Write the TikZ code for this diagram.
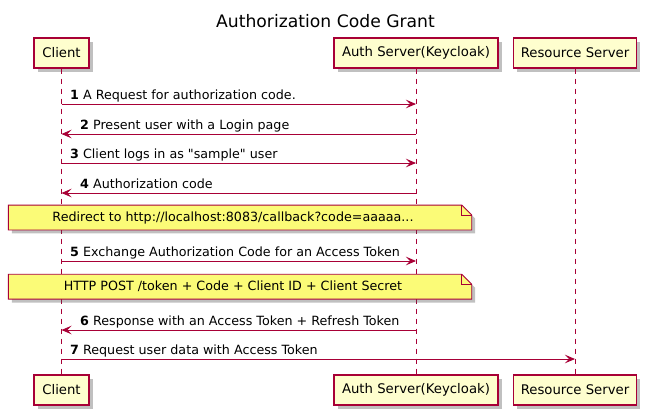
\documentclass[tikz,border=0pt]{standalone}
\usepackage{fontspec}
\setmainfont{DejaVu Sans}[Ligatures=TeXOff]
\usetikzlibrary{arrows.meta,shadows}
\definecolor{pline}{HTML}{A80036}
\definecolor{pbox}{HTML}{FEFECE}
\definecolor{pnote}{HTML}{FBFB77}
\tikzset{
  part/.style={draw=pline, fill=pbox, line width=1.1pt, minimum height=30pt, inner sep=0pt,
    font=\fontsize{13.25}{15}\selectfont,
    drop shadow={shadow xshift=3.5pt, shadow yshift=-3.5pt, opacity=0.35, fill=black!70}},
  life/.style={draw=pline, dash pattern=on 5pt off 5pt, line width=0.8pt},
  msg/.style={draw=pline, line width=0.9pt, -{Stealth[length=10pt,width=8.5pt,inset=4pt]}},
  lbl/.style={font=\fontsize{12.7}{15}\selectfont, inner sep=0pt, anchor=base west},
  notebox/.style={minimum width=463pt, minimum height=24.5pt, inner sep=0pt},
  noteline/.style={draw=pline, fill=pnote, line width=0.9pt, line join=miter},
  noteshadow/.style={drop shadow={shadow xshift=3.5pt, shadow yshift=-3.5pt, opacity=0.35, fill=black!70}},
  notetxt/.style={font=\fontsize{12.7}{15}\selectfont, inner sep=0pt},
}
\begin{document}
\begin{tikzpicture}[x=1pt,y=-1pt]
\useasboundingbox[fill=white] (0,0) rectangle (645,416);

% title
\node[font=\fontsize{17.2}{20}\selectfont, inner sep=0pt] (title) at (325.5,21) {Authorization Code Grant};

% participants
\node[part, minimum width=55pt]  (ct) at (61.5,53) {Client};
\node[part, minimum width=164pt] (at) at (416,53) {Auth Server(Keycloak)};
\node[part, minimum width=123pt] (rt) at (575,53) {Resource Server};
\node[part, minimum width=55pt]  (cb) at (61.5,390) {Client};
\node[part, minimum width=164pt] (ab) at (416,390) {Auth Server(Keycloak)};
\node[part, minimum width=123pt] (rb) at (575,390) {Resource Server};

% lifelines
\draw[life] (ct.south) -- (cb.north);
\draw[life] (at.south) -- (ab.north);
\draw[life] (rt.south) -- (rb.north);

% message end points
\foreach \i/\y in {1/104,2/134,3/163,4/193,5/261,6/330,7/359} {
  \coordinate (c\i) at (61.5,\y);
  \coordinate (a\i) at (416,\y);
  \coordinate (r\i) at (575,\y);
}

% messages
\draw[msg] (c1) -- (a1);
\node[lbl] (m1) at (70,99) {\textbf{1} A Request for authorization code.};
\draw[msg] (a2) -- (c2);
\node[lbl] (m2) at (80,129) {\textbf{2} Present user with a Login page};
\draw[msg] (c3) -- (a3);
\node[lbl] (m3) at (70,158) {\textbf{3} Client logs in as "sample" user};
\draw[msg] (a4) -- (c4);
\node[lbl] (m4) at (80,188) {\textbf{4} Authorization code};

% note 1
\node[notebox] (n1) at (240,217.5) {};
\path[noteshadow] (n1.south west) -- (n1.north west) -- ([xshift=-10pt]n1.north east) -- ([yshift=-10pt]n1.north east) -- (n1.south east) -- cycle;
\draw[noteline] (n1.south west) -- (n1.north west) -- ([xshift=-10pt]n1.north east) -- ([yshift=-10pt]n1.north east) -- (n1.south east) -- cycle;
\draw[noteline, fill=none] ([xshift=-10pt]n1.north east) -- ([xshift=-10pt,yshift=-10pt]n1.north east) -- ([yshift=-10pt]n1.north east);
\node[notetxt] (t1) at ([xshift=-7pt]n1.center) {Redirect to http://localhost:8083/callback?code=aaaaa...};

\draw[msg] (c5) -- (a5);
\node[lbl] (m5) at (70,256) {\textbf{5} Exchange Authorization Code for an Access Token};

% note 2
\node[notebox] (n2) at (240,286.7) {};
\path[noteshadow] (n2.south west) -- (n2.north west) -- ([xshift=-10pt]n2.north east) -- ([yshift=-10pt]n2.north east) -- (n2.south east) -- cycle;
\draw[noteline] (n2.south west) -- (n2.north west) -- ([xshift=-10pt]n2.north east) -- ([yshift=-10pt]n2.north east) -- (n2.south east) -- cycle;
\draw[noteline, fill=none] ([xshift=-10pt]n2.north east) -- ([xshift=-10pt,yshift=-10pt]n2.north east) -- ([yshift=-10pt]n2.north east);
\node[notetxt] (t2) at ([xshift=-7pt]n2.center) {HTTP POST /token + Code + Client ID + Client Secret};

\draw[msg] (a6) -- (c6);
\node[lbl] (m6) at (80,325) {\textbf{6} Response with an Access Token + Refresh Token};
\draw[msg] (c7) -- (r7);
\node[lbl] (m7) at (70,354) {\textbf{7} Request user data with Access Token};
\end{tikzpicture}
\end{document}
